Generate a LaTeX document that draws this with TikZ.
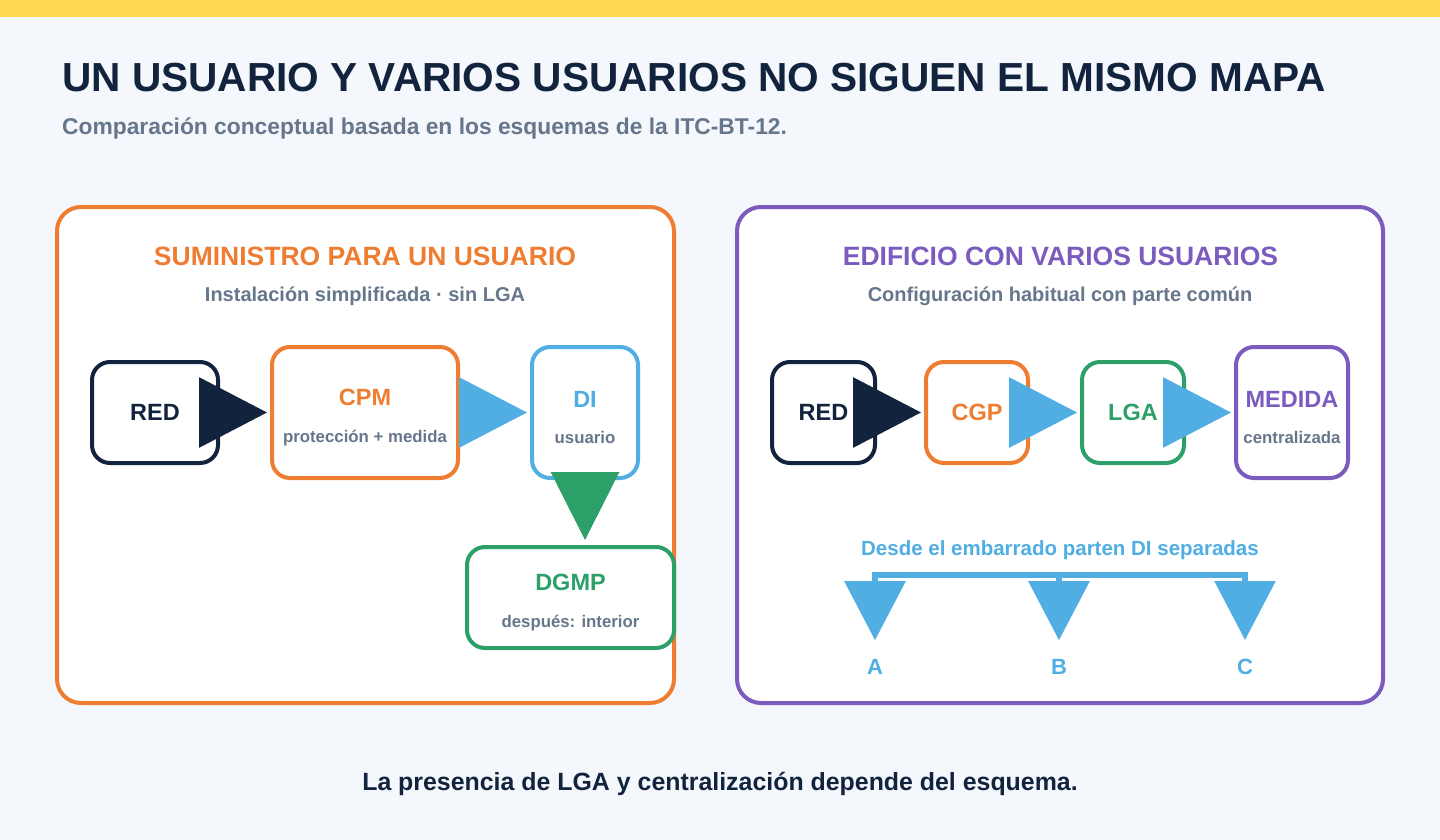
\documentclass[tikz,border=0pt]{standalone}
\usepackage{fontspec}
\setmainfont{Liberation Sans}
\usepackage{xcolor}
\usetikzlibrary{arrows.meta,positioning}

\definecolor{navy}{HTML}{12233D}
\definecolor{naranja}{HTML}{EE7D31}
\definecolor{azul}{HTML}{50AEE2}
\definecolor{verde}{HTML}{2DA06A}
\definecolor{morado}{HTML}{7B5CBE}
\definecolor{gris}{HTML}{66768B}
\definecolor{fondo}{HTML}{F4F7FB}
\definecolor{amarillo}{HTML}{FFD84F}

\newcommand{\twoline}[2]{\rule{0pt}{26pt}#1\\[8.5pt]{\fontsize{16.8}{20}\selectfont\color{gris}#2}}

\begin{document}
\begin{tikzpicture}[x=1pt,y=-1pt,every node/.style={inner sep=0pt},
		panel/.style={draw,line width=4pt,rounded corners=24pt,fill=white,minimum height=496pt},
		caja/.style={draw,line width=4pt,rounded corners=18pt,fill=white,align=center,
			minimum height=101pt,font=\fontsize{23.5}{28}\selectfont\bfseries},
		alta/.style={minimum height=131pt},
		flow/.style={-{Triangle[length=68pt,width=70pt]},line width=3pt,shorten >=3pt},
		bus/.style={azul,line width=6pt},
		drop/.style={-{Triangle[length=59pt,width=60pt]},shorten >=19pt},
		titulo/.style={anchor=base,font=\fontsize{26.5}{32}\selectfont\bfseries},
		nota/.style={anchor=base,text=gris,font=\fontsize{20}{24}\selectfont\bfseries}]
	\fill[fondo] (0,0) rectangle (1440,840);
	\fill[amarillo] (0,0) rectangle (1440,17);
	\useasboundingbox (0,0) rectangle (1440,840);

	\node[anchor=base west,text=navy,font=\fontsize{40.6}{48}\selectfont\bfseries] (cabecera) at (62,92)
		{UN USUARIO Y VARIOS USUARIOS NO SIGUEN EL MISMO MAPA};
	\node[anchor=base west,text=gris,font=\fontsize{22.8}{27}\selectfont\bfseries] (bajada) at (62,135)
		{Comparación conceptual basada en los esquemas de la ITC-BT-12.};

	% paneles
	\node[panel,draw=naranja,minimum width=617pt] (izq) at (365.5,455) {};
	\node[panel,draw=morado,minimum width=646pt] (der) at (1060,455) {};
	\node[titulo,text=naranja] (tizq) at (365,265) {SUMINISTRO PARA UN USUARIO};
	\node[nota] (sizq) at (365,301) {Instalación simplificada · sin LGA};
	\node[titulo,text=morado] (tder) at (1060.5,265) {EDIFICIO CON VARIOS USUARIOS};
	\node[nota] (sder) at (1060,301) {Configuración habitual con parte común};

	% un usuario
	\node[caja,draw=navy,text=navy,minimum width=126pt] (red1) at (155,412.5) {RED};
	\node[caja,alta,draw=naranja,text=naranja,minimum width=186pt,right=50pt of red1] (cpm) {\twoline{CPM}{protección + medida}};
	\node[caja,alta,draw=azul,text=azul,minimum width=106pt,right=70pt of cpm] (di) {\twoline{DI}{usuario}};
	\node[caja,draw=verde,text=verde,minimum width=207pt] (dgmp) at (570.5,597.5) {\twoline{DGMP}{después: interior}};

	\path (red1) edge [flow,navy] (cpm)
	(cpm) edge [flow,azul] (di);
	\draw[flow,verde,-{Triangle[length=68pt,width=68pt]},shorten >=5pt] (di.south) -- (di.south |- dgmp.north);

	% varios usuarios
	\node[caja,draw=navy,text=navy,minimum width=103pt] (red2) at (823.5,412.5) {RED};
	\node[caja,draw=naranja,text=naranja,minimum width=102pt,right=47pt of red2] (cgp) {CGP};
	\node[caja,draw=verde,text=verde,minimum width=102pt,right=50pt of cgp] (lga) {LGA};
	\node[caja,alta,draw=morado,text=morado,minimum width=112pt,right=48pt of lga] (medida) {\twoline{MEDIDA}{centralizada}};

	\path (red2) edge [flow,navy] (cgp)
	(cgp) edge [flow,azul] (lga)
	(lga) edge [flow,azul] (medida);

	\node[nota,text=azul,font=\fontsize{20.5}{24}\selectfont\bfseries] (embarrado) at (1060,555.5)
		{Desde el embarrado parten DI separadas};
	\foreach \n/\x/\t in {la/875/A,lb/1059/B,lc/1245/C}
		\node[text=azul,font=\fontsize{22}{26}\selectfont\bfseries] (\n) at (\x,667) {\t};
	\coordinate (ba) at (875,575);
	\coordinate (bb) at (1059,575);
	\coordinate (bc) at (1245,575);
	\draw[bus,line cap=rect] (ba) -- (bc);
	\foreach \b/\n in {ba/la,bb/lb,bc/lc}
		\draw[bus,drop] (\b) -- (\n.north);

	\node[anchor=base,text=navy,font=\fontsize{24.9}{30}\selectfont\bfseries] (pie) at (720,790)
		{La presencia de LGA y centralización depende del esquema.};
\end{tikzpicture}
\end{document}
